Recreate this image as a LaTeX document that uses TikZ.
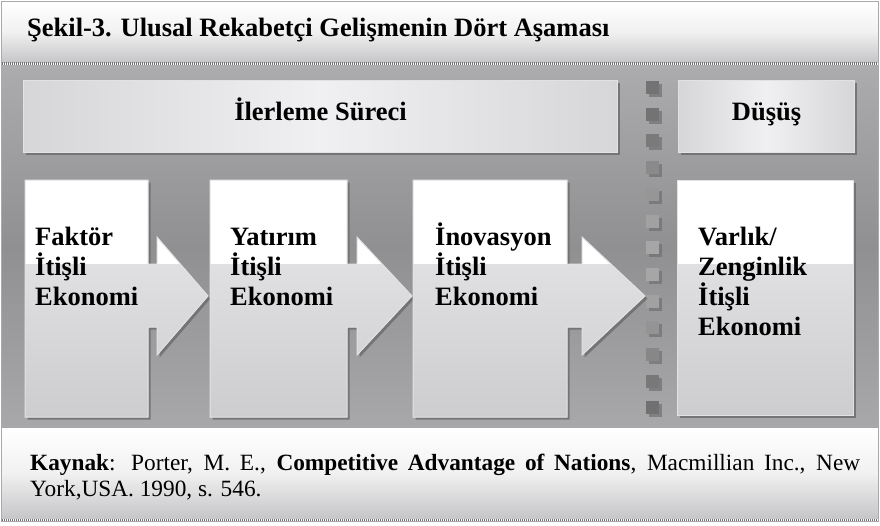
\documentclass[tikz,border=0pt]{standalone}
\usepackage{fontspec}
\setmainfont{Liberation Serif}
\usetikzlibrary{positioning,shadows}
\definecolor{paneltop}{RGB}{172,172,174}
\definecolor{panelmid}{RGB}{144,144,146}
\definecolor{panelbot}{RGB}{168,168,170}
\definecolor{bandgray}{RGB}{198,198,200}
\definecolor{boxhigh}{RGB}{234,234,236}
\definecolor{boxlow}{RGB}{205,205,207}
\definecolor{hdrside}{RGB}{214,214,216}
\definecolor{hdrmid}{RGB}{240,240,242}
\definecolor{edgegray}{RGB}{226,226,228}
\definecolor{stipplegray}{RGB}{112,112,112}
\definecolor{framegray}{RGB}{170,170,170}
\tikzset{
    % bands, panel and separators
    band/.style={top color=white, bottom color=bandgray, middle color=white!75!bandgray},
    stipple/.style={draw=stipplegray, line width=2.5pt, dash pattern=on 1pt off 1pt},
    % label boxes on top
    headerbox/.style={
        rectangle, draw=edgegray, line width=1pt,
        left color=hdrside, right color=hdrside, middle color=hdrmid,
        minimum height=72pt, anchor=north west,
        text height=14pt, text depth=7pt,
        font=\fontsize{26.5}{30}\selectfont\bfseries,
        drop shadow={shadow xshift=2.5pt, shadow yshift=-2.5pt, fill=stipplegray, opacity=.9}
    },
    % stage boxes with arrows
    stageshape/.style={
        fill=white, draw=edgegray, line width=1pt,
        drop shadow={shadow xshift=2.5pt, shadow yshift=-2.5pt, fill=stipplegray, opacity=.9},
        path picture={\shade[top color=boxhigh, bottom color=boxlow]
            (path picture bounding box.south west) rectangle (path picture bounding box.east |- glossline);}
    },
    stagetext/.style={
        anchor=north west, inner sep=0pt, align=left,
        font=\fontsize{26.5}{30}\selectfont\bfseries
    }
}

\begin{document}
\begin{tikzpicture}[x=1pt, y=-1pt]
\useasboundingbox (0,0) rectangle (880,525);
\coordinate (glossline) at (0,264);

% Title band
\shade[band] (2,2) rectangle (878,62);
\node[anchor=base west, inner sep=0pt, font=\fontsize{26.5}{30}\selectfont\bfseries] (title) at (27,36)
    {Şekil-3. Ulusal Rekabetçi Gelişmenin Dört Aşaması};
\draw[stipple] (2,63.5) -- (878,63.5);

% Gray panel
\shade[top color=paneltop, bottom color=panelbot, middle color=panelmid] (2,65) rectangle (878,428);

% Header boxes
\node[headerbox, minimum width=594pt] (progress) at (23,80) {İlerleme Süreci};
\node[headerbox, minimum width=176pt, right=60pt of progress] (decline) {Düşüş};

% Divider squares
\foreach \i/\c in {0/55,1/55,2/52,3/46,4/41,5/37,6/35,7/35,8/37,9/42,10/47,11/53,12/56}{
    \fill[stipplegray, opacity=.7] (649,{84+26.7*\i}) rectangle (662,{97+26.7*\i});
    \fill[black!\c] (646,{81+26.7*\i}) rectangle (659,{94+26.7*\i});
}

% Stage boxes
\foreach \l/\r/\h/\t in {25/148/157/208, 210/347/357/412, 413/567/582/645}
    \path[stageshape] (\l,180) -- (\r,180) -- (\r,264) -- (\h,264) -- (\h,237) -- (\t,296)
        -- (\h,355) -- (\h,327) -- (\r,327) -- (\r,417) -- (\l,417) -- cycle;
\path[stageshape] (677,180) rectangle (853,415);

\node[stagetext] (factor) at (35,220) {\rule{0pt}{25pt}Faktör\\İtişli\\Ekonomi};
\node[stagetext] (invest) at (230,220) {\rule{0pt}{25pt}Yatırım\\İtişli\\Ekonomi};
\node[stagetext] (innov) at (435,220) {\rule{0pt}{25pt}İnovasyon\\İtişli\\Ekonomi};
\node[stagetext] (wealth) at (698,220) {\rule{0pt}{25pt}Varlık/\\Zenginlik\\İtişli\\Ekonomi};

% Source band
\shade[band] (2,428) rectangle (878,518);
\node[anchor=north west, inner sep=0pt, text width=830pt, align=justify,
      font=\fontsize{23.3}{26}\selectfont] (source) at (30,454)
    {\textbf{Kaynak}: Porter, M. E., \textbf{Competitive Advantage of Nations}, Macmillian Inc., New\linebreak York,USA. 1990, s. 546.};
\draw[stipple] (2,520) -- (878,520);

% Frame
\draw[framegray, line width=1pt] (1.5,1.5) rectangle (878.5,521.5);
\end{tikzpicture}
\end{document}
